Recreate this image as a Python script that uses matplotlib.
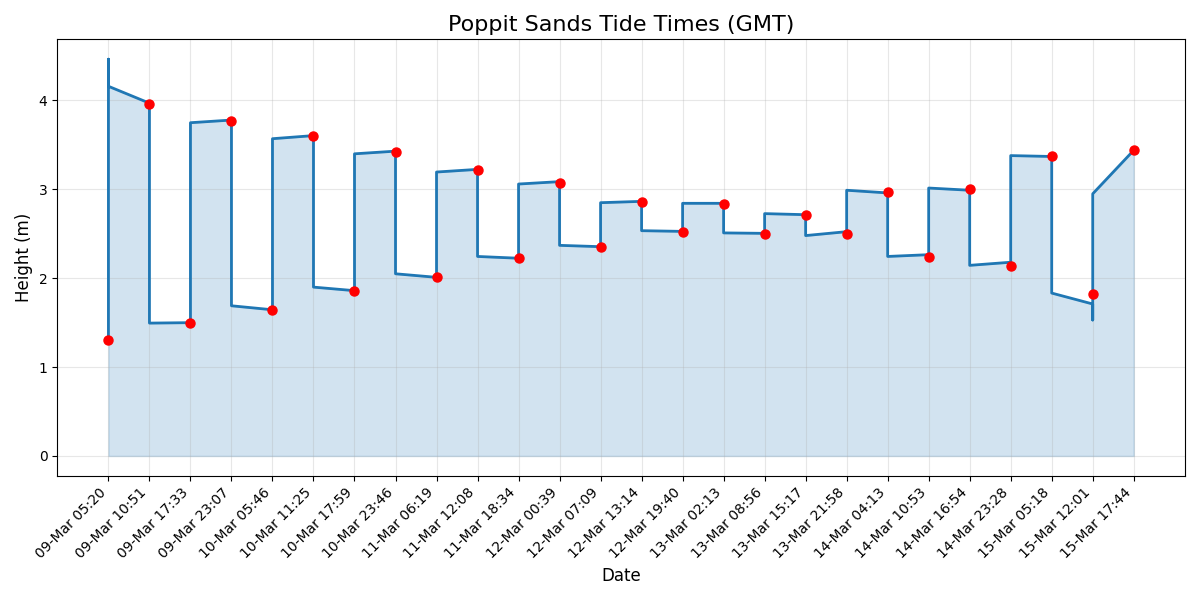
import numpy as np
import matplotlib
matplotlib.use('Agg')
import matplotlib.pyplot as plt

# Tide times (GMT) and heights at each tide
labels = ['09-Mar 05:20', '09-Mar 10:51', '09-Mar 17:33', '09-Mar 23:07',
          '10-Mar 05:46', '10-Mar 11:25', '10-Mar 17:59', '10-Mar 23:46',
          '11-Mar 06:19', '11-Mar 12:08', '11-Mar 18:34', '12-Mar 00:39',
          '12-Mar 07:09', '12-Mar 13:14', '12-Mar 19:40', '13-Mar 02:13',
          '13-Mar 08:56', '13-Mar 15:17', '13-Mar 21:58', '14-Mar 04:13',
          '14-Mar 10:53', '14-Mar 16:54', '14-Mar 23:28', '15-Mar 05:18',
          '15-Mar 12:01', '15-Mar 17:44']
heights = [1.30, 3.96, 1.50, 3.77, 1.645, 3.605, 1.86, 3.42, 2.01, 3.22,
           2.225, 3.075, 2.355, 2.86, 2.52, 2.84, 2.50, 2.715, 2.50, 2.97,
           2.24, 3.005, 2.14, 3.37, 1.825, 3.44]

# Interpolated curve: value leaving each tide and value arriving at the next
seg_start = [4.16, 1.495, 3.75, 1.69, 3.57, 1.90, 3.40, 2.05, 3.195, 2.245,
             3.06, 2.37, 2.85, 2.535, 2.843, 2.51, 2.727, 2.48, 2.99, 2.245,
             3.015, 2.145, 3.38, 1.833, 2.95]
seg_end = [3.97, 1.50, 3.78, 1.645, 3.605, 1.86, 3.43, 2.01, 3.225, 2.225,
           3.087, 2.355, 2.865, 2.527, 2.843, 2.505, 2.715, 2.524, 2.96, 2.265,
           2.99, 2.18, 3.37, 1.71, 3.44]
# overshoot spikes of the curve at first and second-last tide
spike = {0: 4.465, 24: 1.53}

line_x, line_y = [0], [heights[0]]
for i in range(len(seg_start)):
    if i in spike:
        line_x.append(i)
        line_y.append(spike[i])
    line_x += [i, i + 1]
    line_y += [seg_start[i], seg_end[i]]

x = np.arange(len(labels))

fig, ax = plt.subplots(figsize=(12, 6))
ax.plot(line_x, line_y, color='#1f77b4', linewidth=2)
ax.fill_between(line_x, line_y, color='#1f77b4', alpha=0.2)
ax.plot(x, heights, 'ro', markersize=6.5)

ax.set_xticks(x)
ax.set_xticklabels(labels, rotation=45, ha='right')
ax.set_title('Poppit Sands Tide Times (GMT)', fontsize=16)
ax.set_xlabel('Date', fontsize=12)
ax.set_ylabel('Height (m)', fontsize=12)
ax.grid(True, alpha=0.3)

fig.tight_layout()
fig.savefig('out.png', dpi=100)
